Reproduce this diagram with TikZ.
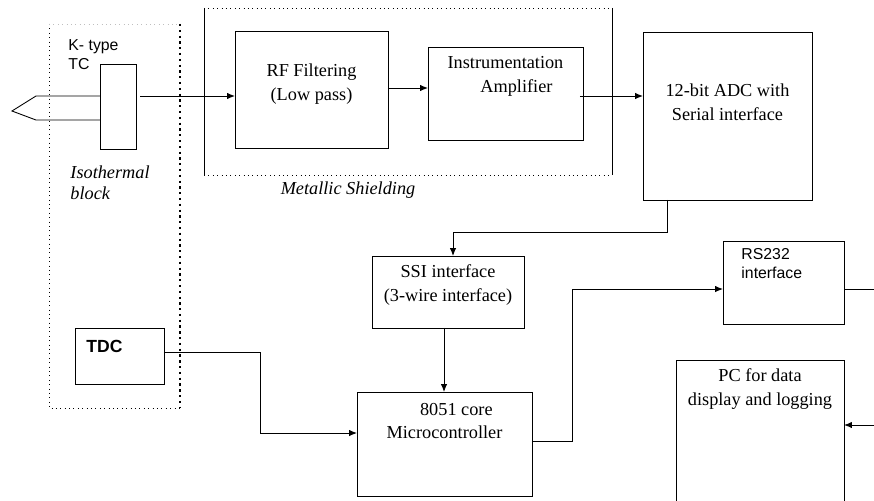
\documentclass[tikz,border=0pt]{standalone}
\usepackage{fontspec}
\setmainfont{Liberation Serif}
\setsansfont{Liberation Sans}
\usepackage{tikz}
\usetikzlibrary{arrows.meta}

\tikzset{blk/.style={draw, rectangle, inner sep=0pt, outer sep=0pt, line width=0.5pt},
txt/.style={align=center, inner sep=0pt, font=\fontsize{10.4}{13.6}\selectfont},
sftxt/.style={align=left, inner sep=0pt, font=\sffamily\fontsize{9}{10.8}\selectfont}}

\begin{document}
\begin{tikzpicture}[x=0.02cm, y=-0.02cm, >={Latex[length=4.5pt,width=3.6pt]}, line width=0.5pt]
\useasboundingbox (0,0) rectangle (874,500);
\clip (0,0) rectangle (874,500);
\draw[dotted] (49,24) -- (49,408) -- (180,408);
\draw[dotted, gray!50] (49,24) -- (180,24);
\draw[dotted, line width=1.3pt] (180,24) -- (180,408);
\draw (204,8) -- (204,175);
\draw (612,8) -- (612,175);
\draw[dotted] (204,8) -- (612,8);
\draw[dotted] (204,175) -- (612,175);
\node[blk, minimum width=0.72cm, minimum height=1.7cm] (tc) at (118,106.5) {};
\draw (tc.west |- 0,96) -- (36,96) -- (12,111) -- (36,120) -- (tc.west |- 0,120);
\node[sftxt, anchor=north west] (tclbl) at (68,39) {K- type\\TC};
\node[txt, anchor=north west, font=\itshape\fontsize{10.4}{12}\selectfont, align=left] (isolbl) at (70,165) {Isothermal\\block};
\node[txt, font=\itshape\fontsize{10.4}{13.6}\selectfont] (shieldlbl) at (348,190) {Metallic Shielding};
\node[blk, minimum width=3.06cm, minimum height=2.34cm] (rf) at (311.5,89.5) {};
\node[txt] (rflbl) at (311.5,84) {RF Filtering\\(Low pass)};
\node[blk, minimum width=3.1cm, minimum height=1.86cm] (ia) at (505.5,93.5) {};
\node[txt] (ialbl) at (505.5,76) {Instrumentation\\\hspace*{1.2em}Amplifier};
\node[blk, minimum width=3.38cm, minimum height=3.36cm] (adc) at (727.5,116) {};
\node[txt] (adclbl) at (727.5,102) {12-bit ADC with\\Serial interface};
\node[blk, minimum width=3.04cm, minimum height=1.44cm] (ssi) at (448,292) {};
\node[txt] (ssilbl) at (448,285) {SSI interface\\(3-wire interface)};
\node[blk, minimum width=3.5cm, minimum height=2.08cm] (mcu) at (444.5,444) {};
\node[txt] (mculbl) at (444.5,421) {\hspace*{1.3em}8051 core\\Microcontroller};
\node[blk, minimum width=2.42cm, minimum height=1.66cm] (rs) at (783.5,282.5) {};
\node[sftxt, anchor=north west] (rslbl) at (741,248) {RS232\\interface};
\node[blk, minimum width=3.36cm, minimum height=3.6cm] (pc) at (760,450) {};
\node[txt] (pclbl) at (760,389) {PC for data\\display and logging};
\node[blk, minimum width=1.78cm, minimum height=1.12cm] (tdc) at (119.5,356) {};
\node[anchor=west, inner sep=0pt, font=\sffamily\bfseries\fontsize{10}{12}\selectfont] (tdclbl) at (86,346) {TDC};
\coordinate (tcout) at (140,96);
\coordinate (rsout) at (874,289);
\coordinate (pcin) at (874,425);
\draw[->] (tcout) -- (tcout -| rf.west);
\draw[->] ([shift={(0,-1.5)}]rf.east) -- ([shift={(0,-1.5)}]rf.east -| ia.west);
\draw[->] ([shift={(-3,2.5)}]ia.east) -- ([shift={(0,2.5)}]ia.east -| adc.west);
\draw[->] ([shift={(24,0)}]adc.south west) -- ++(0,32) -| ([shift={(5,0)}]ssi.north);
\draw[->] ([shift={(-4,0)}]ssi.south) -- ([shift={(-4,0)}]ssi.south |- mcu.north);
\draw[->] ([shift={(0,-3)}]mcu.east) -- ++(40,0) |- ([shift={(0,6.5)}]rs.west);
\draw (rs.east |- rsout) -- (rsout);
\draw[->] (pcin) -- (pcin -| pc.east);
\draw[->] ([shift={(0,-4)}]tdc.east) -- ++(96,0) |- ([shift={(0,-11)}]mcu.west);
\end{tikzpicture}
\end{document}
